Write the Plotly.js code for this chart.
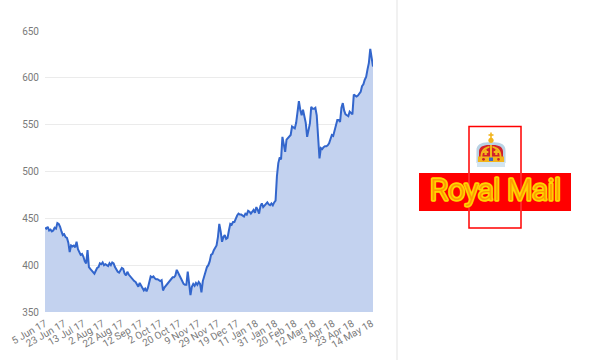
<!DOCTYPE html>
<html>
<head>
<meta charset="utf-8">
<script src="https://cdn.plot.ly/plotly-3.0.1.min.js"></script>
<style>
  html, body { margin: 0; padding: 0; background: #fff; }
  #chart { width: 600px; height: 360px; }
</style>
</head>
<body>
<div id="chart"></div>
<script>
// Royal Mail share price (pence), one point per trading day, 5 Jun 2017 onwards
const prices = [
  440, 439, 441, 437, 438, 436, 437, 440, 439, 445,
  444, 441, 436, 432, 433, 430, 429, 424, 414, 421,
  420, 421, 419, 425, 417, 414, 411, 412, 409, 404,
  402, 416, 398, 396, 394, 393, 391, 394, 397, 398,
  402, 401, 403, 400, 401, 400, 399, 402, 400, 403,
  402, 398, 395, 393, 392, 395, 397, 396, 391, 389,
  393, 390, 388, 386, 384, 383, 382, 379, 377, 381,
  378, 376, 373, 375, 372, 376, 383, 388, 387, 388,
  386, 385, 385, 384, 383, 384, 373, 376, 378, 380,
  382, 384, 386, 387, 387, 389, 395, 391, 389, 386,
  383, 380, 379, 379, 393, 380, 368, 377, 380, 378,
  381, 379, 382, 380, 371, 383, 389, 395, 398, 400,
  404, 411, 412, 416, 419, 421, 430, 444, 436, 425,
  430, 432, 428, 429, 437, 444, 443, 446, 446, 450,
  453, 455, 454, 454, 453, 452, 455, 454, 458, 457,
  455, 457, 459, 456, 462, 459, 455, 463, 466, 462,
  464, 466, 467, 465, 464, 466, 464, 467, 469, 495,
  509, 515, 513, 537, 528, 521, 534, 536, 537, 539,
  548, 547, 546, 552, 562, 575, 566, 560, 566, 559,
  552, 537, 545, 551, 569, 567, 567, 568, 560, 541,
  514, 525, 524, 526, 527, 527, 528, 530, 534, 539,
  538, 544, 548, 555, 555, 553, 568, 573, 565, 561,
  560, 559, 564, 562, 561, 582, 581, 580, 581, 583,
  585, 591, 593, 598, 601, 609, 616, 631, 618, 612
];

// Date labels, one every 14 trading days
const tickLabels = [
  '5 Jun 17', '23 Jun 17', '13 Jul 17', '2 Aug 17', '22 Aug 17', '12 Sep 17',
  '2 Oct 17', '20 Oct 17', '9 Nov 17', '29 Nov 17', '19 Dec 17', '11 Jan 18',
  '31 Jan 18', '20 Feb 18', '12 Mar 18', '3 Apr 18', '23 Apr 18', '14 May 18'
];
const tickStep = 14;
const yTicks = [350, 400, 450, 500, 550, 600, 650];

const dayIndex = prices.map((_, i) => i);
const tickPositions = tickLabels.map((_, i) => i * tickStep);

// Plot area geometry (pixels) used to place the logo in paper units
const W = 600, H = 360;
const M = { l: 45, r: 227, t: 31, b: 48 };
const plotW = W - M.l - M.r, plotH = H - M.t - M.b;
const px = x => (x - M.l) / plotW;
const py = y => (H - M.b - y) / plotH;
const curve = d => d.replace(/(-?\d+(?:\.\d+)?),(-?\d+(?:\.\d+)?)/g,
  (m, a, b) => px(+a).toFixed(4) + ',' + py(+b).toFixed(4));
const rect = (x0, y0, x1, y1, fill, line) => ({
  type: 'rect', xref: 'paper', yref: 'paper', layer: 'above',
  x0: px(x0), x1: px(x1), y0: py(y1), y1: py(y0),
  fillcolor: fill, line: line || { width: 0 }
});
const blob = (d, fill) => ({
  type: 'path', xref: 'paper', yref: 'paper', layer: 'above',
  path: curve(d), fillcolor: fill, line: { width: 0 }
});
const circle = (cx, cy, r, fill) => ({
  type: 'circle', xref: 'paper', yref: 'paper', layer: 'above',
  x0: px(cx - r), x1: px(cx + r), y0: py(cy + r), y1: py(cy - r),
  fillcolor: fill, line: { width: 0 }
});
const vline = (x, y0, y1, color, width) => ({
  type: 'line', xref: 'paper', yref: 'paper', layer: 'above',
  x0: px(x), x1: px(x), y0: py(y0), y1: py(y1), line: { color: color, width: width }
});

const red = '#ff0000';
const gold = '#f2b51c';
const pearl = '#b9d2e4';
const shapes = [
  // divider between chart and logo panel
  vline(397, 0, 360, '#e3e3e3', 1),
  // cross outline
  rect(469, 126.5, 521, 228, 'rgba(0,0,0,0)', { color: red, width: 1.5 }),
  // crown: pearl rim, velvet cap, arches, band, ermine
  blob('M476.5,163 L476.5,151 C476,144 483,141.5 491,142.5 C499,141.5 506,144 505.5,151 L505.5,163 Z', pearl),
  blob('M479,158 L479,151.5 C479,146.5 484,144.5 491,145 C498,144.5 503,146.5 503,151.5 L503,158 Z', '#d3202a'),
  blob('M490,145 L492,145 L492,157 L490,157 Z', gold),
  blob('M480.5,157 C480.5,150 484,147 489.5,146 L489.5,147.8 C485.5,149 482.5,151.5 482.3,157 Z', gold),
  blob('M501.5,157 C501.5,150 498,147 492.5,146 L492.5,147.8 C496.5,149 499.5,151.5 499.7,157 Z', gold),
  rect(484.5, 149.5, 486.8, 155, gold), rect(483, 151, 488.3, 153, gold),
  rect(495.2, 149.5, 497.5, 155, gold), rect(493.7, 151, 499, 153, gold),
  rect(478, 156.5, 504, 162, gold),
  rect(489, 157.5, 493, 161, '#3f63c6'),
  circle(483.5, 159.3, 1.4, '#c8202a'), circle(498.5, 159.3, 1.4, '#c8202a'),
  rect(477, 162, 505, 167, '#d3e5f0'),
  circle(491, 140.3, 2.6, gold),
  rect(490.2, 132.5, 491.8, 138.5, gold), rect(488.5, 134.2, 493.5, 135.8, gold),
  // name bar, with the cross lines faintly showing through
  rect(419, 173, 571, 211, red),
  vline(469, 173, 211, '#ff4d4d', 1),
  vline(521, 173, 211, '#ff4d4d', 1)
];

const trace = {
  x: dayIndex,
  y: prices,
  type: 'scatter',
  mode: 'lines',
  fill: 'tozeroy',
  fillcolor: '#c3d2ef',
  line: { color: '#3366cc', width: 2 },
  hoverinfo: 'y'
};

const tickFont = { family: 'Roboto, Arial, sans-serif', size: 10, color: '#7a7a7a' };

const layout = {
  width: W, height: H,
  margin: M,
  paper_bgcolor: '#ffffff',
  plot_bgcolor: '#ffffff',
  showlegend: false,
  font: { family: 'Roboto, Arial, sans-serif', size: 10, color: '#7a7a7a' },
  xaxis: {
    range: [0, prices.length - 1],
    tickmode: 'array',
    tickvals: tickPositions,
    ticktext: tickLabels,
    tickangle: -30,
    showgrid: false,
    zeroline: false,
    showline: false,
    ticks: '',
    ticklabelstandoff: 3,
    automargin: false,
    tickfont: tickFont
  },
  yaxis: {
    range: [350, 650],
    tickmode: 'array',
    tickvals: yTicks,
    showgrid: true,
    gridcolor: '#ebebeb',
    gridwidth: 1,
    zeroline: false,
    showline: false,
    ticks: '',
    ticklabelstandoff: 5,
    automargin: false,
    tickfont: tickFont
  },
  shapes: shapes,
  annotations: [{
    xref: 'paper', yref: 'paper',
    x: px(495), y: py(190),
    xanchor: 'center', yanchor: 'middle',
    text: 'Royal Mail',
    showarrow: false,
    font: { family: 'Roboto, sans-serif', size: 29, color: '#ff9a00', weight: 300 }
  }]
};

Plotly.newPlot('chart', [trace], layout, { staticPlot: true, displayModeBar: false })
  .then(() => {
    // inline lettering: yellow outline around a thin orange core
    document.querySelectorAll('.annotation-text').forEach(t => {
      t.style.stroke = '#ffd500';
      t.style.strokeWidth = '3.4px';
      t.style.paintOrder = 'stroke';
      t.style.strokeLinejoin = 'round';
    });
  });
</script>
</body>
</html>
